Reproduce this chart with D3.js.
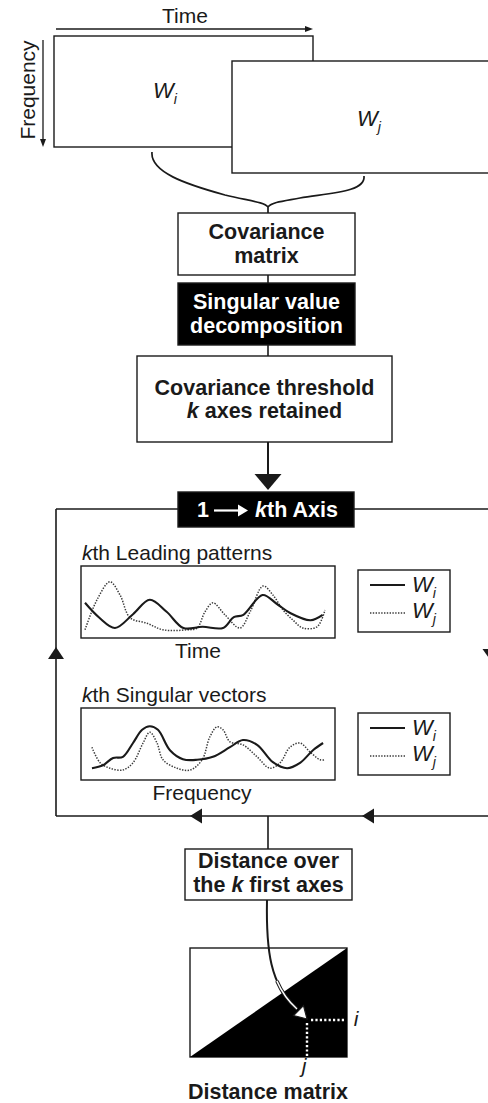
<!DOCTYPE html>
<html><head><meta charset="utf-8">
<script src="https://cdn.jsdelivr.net/npm/d3@7"></script>
<style>
html,body{margin:0;padding:0;background:#fff;}
svg{display:block;font-family:"Liberation Sans",Arial,Helvetica,sans-serif;}
</style></head>
<body>
<svg id="c" width="488" height="1103"></svg>
<script>
// ---- data ----
const leadX_Wi = [0,6,12.5,20,27,34,41,49,57.5,62,66,74,80,85.5,94,99];
const leadY_Wi = [5.2,2.7,1,3.3,5.7,3.7,1,1.2,1,2.8,3.2,6.5,5,3.5,2.3,3.2];
const leadX_Wj = [0,5,10.4,14.6,18.8,25.8,32.5,42.5,46.7,50,53.3,58.3,64.6,68.8,74.2,78.3,82.5,86.7,90.8,96.7,100];
const leadY_Wj = [0.7,5.7,8.7,6.5,2.7,1.8,0.7,0.7,1,3.7,5.2,3.2,1,3.7,8,6.5,4,2.3,1,1.2,4];
const singX_Wi = [2.9,7.5,11.7,15.8,20,23.8,27,30.4,35.4,40.8,46.7,53.3,60.4,65.8,71.7,78.3,84.2,89.6,95,99.2];
const singY_Wi = [1.3,1.8,3,3.2,5.5,7.7,8.3,7.7,4.3,2.8,2.7,3.2,4.8,6,5.2,2.3,1.3,2.2,4.3,5.5];
const singX_Wj = [2.9,6.3,10.4,15.8,20,24.2,27,30,32.5,38.3,43.8,48.8,52,55,57.5,60.4,65.8,71.7,77,81.3,85.4,89.6,93.8,98,100];
const singY_Wj = [4.8,2.2,1.3,1,2.2,5.5,7.3,5.5,2.7,1.3,1,2.7,6.5,8.2,7.7,5.7,5.2,3.2,1.3,2.2,4.8,5.5,4,2.7,2.7];
const legendSeries = ["W|i","W|j"];
const panelTitles = ["kth Leading patterns","kth Singular vectors"];
const panelAxisLabels = ["Time","Frequency"];

const svg = d3.select("#c");
const INK = "#1a1a1a";
const FS = 21;
const FSB = 21.5;

function box(x,y,w,h,fill){
  return svg.append("rect").attr("x",x).attr("y",y).attr("width",w).attr("height",h)
    .attr("fill",fill||"#fff").attr("stroke",INK).attr("stroke-width",1.4);
}
function line(x1,y1,x2,y2,sw){
  return svg.append("line").attr("x1",x1).attr("y1",y1).attr("x2",x2).attr("y2",y2)
    .attr("stroke",INK).attr("stroke-width",sw||1.6);
}
function tri(pts){
  return svg.append("polygon").attr("points",pts.map(p=>p.join(",")).join(" ")).attr("fill",INK);
}
function txt(x,y,s,opt){
  opt=opt||{};
  const t = svg.append("text").attr("x",x).attr("y",y)
    .attr("font-size",opt.size||(opt.bold?FSB:FS)).attr("text-anchor",opt.anchor||"middle")
    .attr("font-weight",opt.bold?"bold":"normal").attr("fill",opt.fill||INK);
  if(opt.italic) t.attr("font-style","italic");
  t.text(s);
  return t;
}
function wlabel(x,y,name,size,anchor){
  const [b,sub]=name.split("|");
  const t = svg.append("text").attr("x",x).attr("y",y).attr("font-size",size)
    .attr("font-style","italic").attr("fill",INK).attr("text-anchor",anchor||"start");
  t.append("tspan").text(b);
  t.append("tspan").attr("font-size",size*0.65).attr("dy",size*0.28).text(sub);
  return t;
}
function ktext(x,y,parts,opt){
  const t = svg.append("text").attr("x",x).attr("y",y).attr("font-size",opt.size||(opt.bold?FSB:FS))
    .attr("text-anchor",opt.anchor||"middle").attr("fill",opt.fill||INK)
    .attr("font-weight",opt.bold?"bold":"normal");
  parts.forEach(p=>{ const s=t.append("tspan").text(p.t); if(p.i) s.attr("font-style","italic"); });
  return t;
}

// ---- top: spectrogram windows ----
txt(185,23,"Time");
line(56,29,307,29,1.3);
tri([[313,29],[305,26],[305,32]]);
svg.append("text").attr("transform","translate(35,90) rotate(-90)").attr("text-anchor","middle")
  .attr("font-size",FS).attr("fill",INK).text("Frequency");
line(43,40,43,141,1.3);
tri([[43,147],[40,139],[46,139]]);
box(54,36,259,111);
box(232,61,270,112);
wlabel(153,98,"W|i",22);
wlabel(357,126,"W|j",22);

// brace
svg.append("path").attr("fill","none").attr("stroke",INK).attr("stroke-width",1.7)
  .attr("d","M152,152 C150,172 185,184 225,195 C250,201 264,202 268,207");
svg.append("path").attr("fill","none").attr("stroke",INK).attr("stroke-width",1.7)
  .attr("d","M364,176 C366,192 330,193 300,198 C284,201 272,202 268,207");
line(268,206,268,213,1.7);

// covariance matrix box
box(178,213,177,62);
txt(266.5,239,"Covariance",{bold:true});
txt(266.5,263,"matrix",{bold:true});
line(268,275,268,283);
// SVD
box(178,283,177,62,"#000");
txt(266.5,309,"Singular value",{bold:true,fill:"#fff"});
txt(266.5,333,"decomposition",{bold:true,fill:"#fff"});
line(268,345,268,356);
// threshold
box(137,356,255,86);
txt(264.5,395,"Covariance threshold",{bold:true});
ktext(264.5,418,[{t:"k",i:true},{t:" axes retained"}],{bold:true});
line(268,442,268,476,2);
tri([[254.5,474],[281.5,474],[268,490]]);

// loop frame
line(56,509,178,509);
line(354,509,500,509);
line(56,509,56,816);
line(56,816,500,816);
line(491,509,491,816);
tri([[56,647],[48,659],[64,659]]);
tri([[482.5,649],[499.5,649],[491,661]]);
tri([[190,816],[202,808.5],[202,823.5]]);
tri([[362,816],[374,808.5],[374,823.5]]);

// kth axis black box
box(178,492,176,35,"#000");
txt(203,517,"1",{bold:true,fill:"#fff"});
svg.append("line").attr("x1",214).attr("y1",510.5).attr("x2",240).attr("y2",510.5).attr("stroke","#fff").attr("stroke-width",2.2);
svg.append("polygon").attr("points","248,510.5 238,504.5 238,516.5").attr("fill","#fff");
ktext(255,517,[{t:"k",i:true},{t:"th Axis"}],{bold:true,fill:"#fff",anchor:"start"});

// ---- panels ----
const x = d3.scaleLinear().domain([0,100]).range([85,325]);
const panels = [
  {top:566, title:panelTitles[0], label:panelAxisLabels[0], labelX:198,
   wi:leadX_Wi.map((v,i)=>[v,leadY_Wi[i]]), wj:leadX_Wj.map((v,i)=>[v,leadY_Wj[i]]),
   legTop:570},
  {top:708, title:panelTitles[1], label:panelAxisLabels[1], labelX:202,
   wi:singX_Wi.map((v,i)=>[v,singY_Wi[i]]), wj:singX_Wj.map((v,i)=>[v,singY_Wj[i]]),
   legTop:713}
];
panels.forEach(p=>{
  const y = d3.scaleLinear().domain([0,10]).range([p.top+68,p.top+8]);
  const ln = d3.line().x(d=>x(d[0])).y(d=>y(d[1])).curve(d3.curveCatmullRom.alpha(0.5));
  const parts = p.title.split(/^k/);
  ktext(82,p.top-6,[{t:"k",i:true},{t:parts[1]}],{anchor:"start"});
  box(81,p.top,254,72);
  svg.append("path").datum(p.wj).attr("d",ln).attr("fill","none").attr("stroke","#3a3a3a")
    .attr("stroke-width",1.5).attr("stroke-dasharray","1.4,1.4");
  svg.append("path").datum(p.wi).attr("d",ln).attr("fill","none").attr("stroke",INK)
    .attr("stroke-width",2.1);
  txt(p.labelX,p.top+92,p.label);
  // legend
  box(358,p.legTop,92,62);
  const ly1 = p.legTop+15, ly2 = p.legTop+43;
  svg.append("line").attr("x1",370).attr("x2",405).attr("y1",ly1).attr("y2",ly1)
    .attr("stroke",INK).attr("stroke-width",2.1);
  svg.append("line").attr("x1",370).attr("x2",405).attr("y1",ly2).attr("y2",ly2)
    .attr("stroke","#3a3a3a").attr("stroke-width",1.5).attr("stroke-dasharray","1.4,1.4");
  wlabel(412,ly1+7,legendSeries[0],22);
  wlabel(412,ly2+5,legendSeries[1],22);
});

// ---- distance ----
line(268,816,268,849);
box(185,849,167,51);
txt(268.5,868,"Distance over",{bold:true});
ktext(268.5,892,[{t:"the "},{t:"k",i:true},{t:" first axes"}],{bold:true});

// distance matrix
box(190,948,157,109);
svg.append("polygon").attr("points","190,1057 347,948 347,1057").attr("fill","#000");
svg.append("line").attr("x1",311).attr("x2",345).attr("y1",1020).attr("y2",1020)
  .attr("stroke","#fff").attr("stroke-width",2.4).attr("stroke-dasharray","2.2,2.2");
svg.append("line").attr("x1",307).attr("x2",307).attr("y1",1023).attr("y2",1057)
  .attr("stroke","#fff").attr("stroke-width",2.4).attr("stroke-dasharray","2.2,2.2");
txt(356,1026,"i",{italic:true,anchor:"middle"});
txt(304,1073,"j",{italic:true,anchor:"middle"});
txt(268,1099,"Distance matrix",{bold:true});

// hollow curved arrow
const arrowPath = "M267,900 C266,950 270,985 297,1009";
svg.append("path").attr("d",arrowPath).attr("fill","none").attr("stroke",INK).attr("stroke-width",2);
svg.append("path").attr("d",arrowPath).attr("fill","none").attr("stroke",INK).attr("stroke-width",3.6)
  .attr("stroke-dasharray","0,82,200");
svg.append("path").attr("d",arrowPath).attr("fill","none").attr("stroke","#fff").attr("stroke-width",1.4)
  .attr("stroke-dasharray","0,82,200");
const ah = svg.append("g").attr("transform","translate(307,1019) rotate(45)");
ah.append("polygon").attr("points","0,0 -12,-7 -12,7").attr("fill","#fff").attr("stroke",INK).attr("stroke-width",1.2);
</script>
</body></html>
